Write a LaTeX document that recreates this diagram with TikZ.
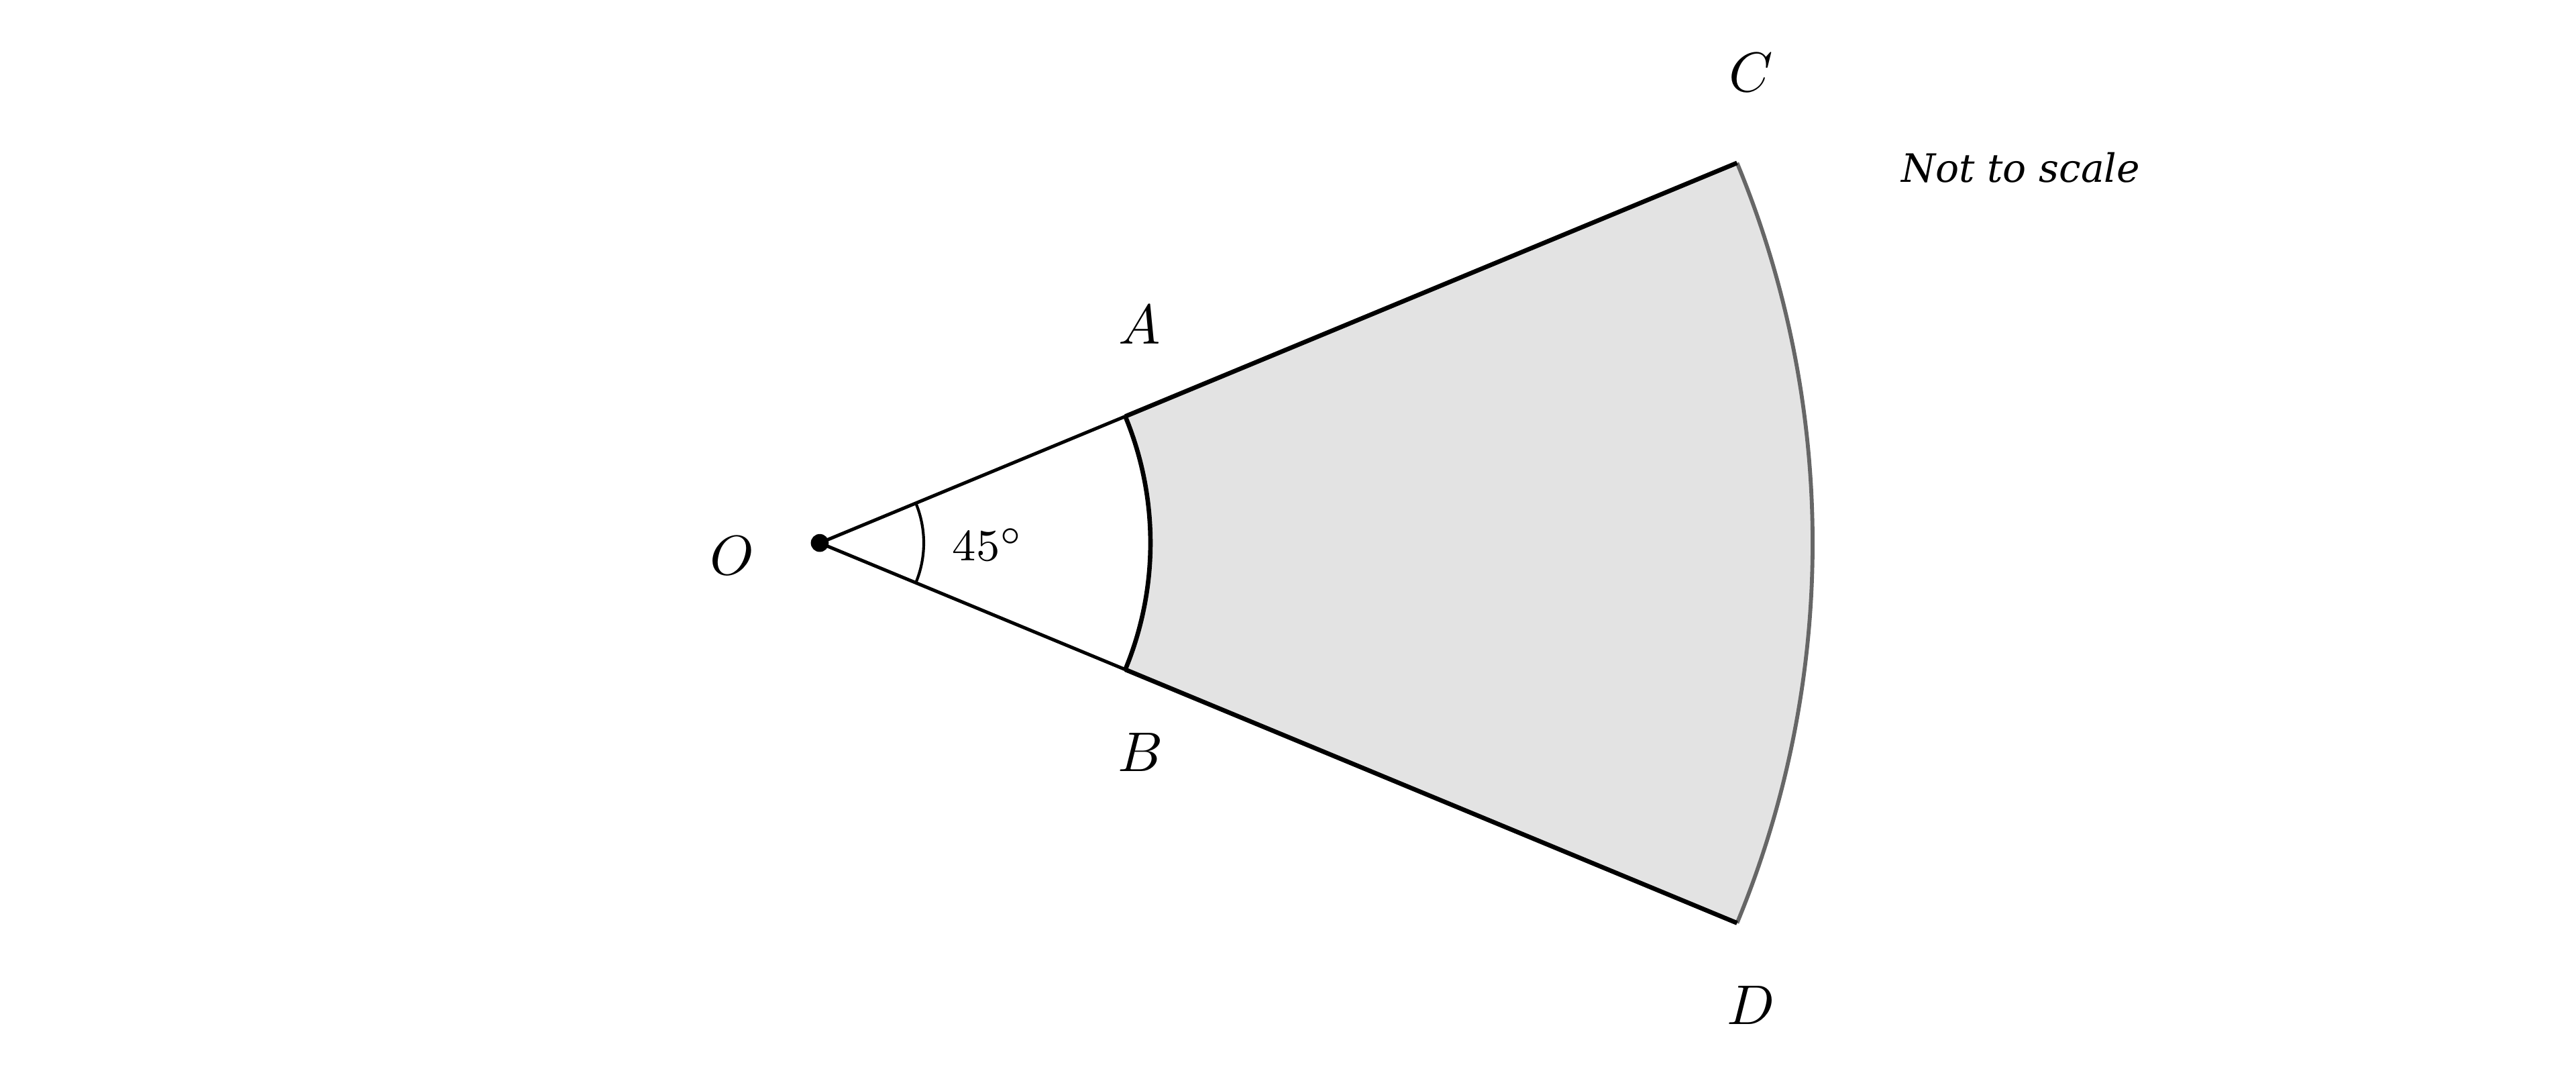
\documentclass[tikz,border=0pt]{standalone}
\usepackage{amsmath}
\usepackage{amssymb}
\usepackage{fontspec}
\newfontfamily\notefont{DejaVu Serif}
\usetikzlibrary{arrows}

\begin{document}
\begin{tikzpicture}[semithick, lbl/.style={inner sep=0pt}]
		\useasboundingbox (-5.156, -3.329) rectangle (11.046, 3.414);
		\coordinate (O) at (0, 0);
		\coordinate (A) at (22.5:2.08);
		\coordinate (B) at (-22.5:2.08);
		\coordinate (C) at (22.5:6.245);
		\coordinate (D) at (-22.5:6.245);
		
		\fill[black!11] (A) -- (C) arc[start angle=22.5, end angle=-22.5, radius=6.245]
		-- (D) -- (B) arc[start angle=-22.5, end angle=22.5, radius=2.08] -- cycle;
		\draw[black!60, line width=0.7pt] (C) arc[start angle=22.5, end angle=-22.5, radius=6.245];
		\draw (O) -- (A) (O) -- (B);
		\draw[thick] (A) -- (C) (B) -- (D);
		\draw[thick] (A) arc[start angle=22.5, end angle=-22.5, radius=2.08];
		\draw[line width=0.5pt] (22.5:0.654) arc[start angle=22.5, end angle=-22.5, radius=0.654];
		\fill (O) circle (1.6pt);
		
		\node[lbl] (lO) at (-0.55, -0.08) {$O$};
		\node[lbl] (lA) at (2.013, 1.371) {$A$};
		\node[lbl] (lB) at (2.017, -1.316) {$B$};
		\node[lbl] (lC) at (5.857, 2.958) {$C$};
		\node[lbl] (lD) at (5.857, -2.907) {$D$};
		\node[lbl, font=\fontsize{8.5}{10}\selectfont] (ang) at (1.06, -0.01) {$45^\circ$};
		\node[lbl] (note) at (7.553, 2.359) {\notefont\itshape\fontsize{7}{8.4}\selectfont Not to scale};
	\end{tikzpicture}
\end{document}
